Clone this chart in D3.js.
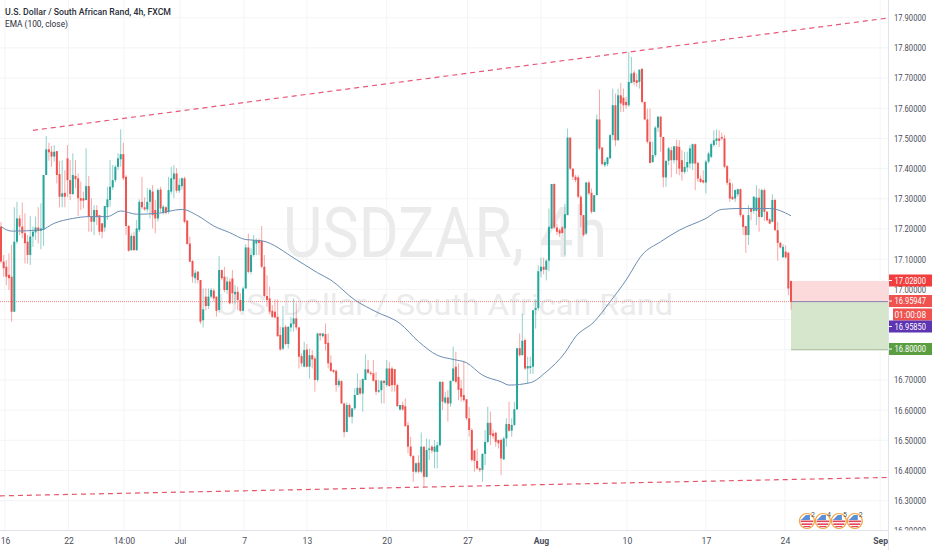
<!DOCTYPE html>
<html>
<head>
<meta charset="utf-8">
<script src="https://cdn.jsdelivr.net/npm/d3@7"></script>
<style>
  body { margin: 0; background: #fff; }
  text { font-family: Roboto, sans-serif; }
  .domain { display: none; }
  .price text { font-size: 9px; fill: #4a4e5a; }
  .time text { font-size: 8.6px; fill: #4a4e5a; }
</style>
</head>
<body>
<svg id="chart"></svg>
<script>
var opens = [
  17.208,17.092,17.075,17.048,17.042,16.926,17.158,17.235,17.208,17.186,17.158,17.114,17.175,17.189,17.205,17.194,17.197,17.379,17.464,17.456,17.440,17.458,17.382,17.307,17.320,17.434,17.362,17.316,17.376,17.368,17.302,17.302,17.296,17.342,17.241,17.224,17.263,17.246,17.219,17.205,17.272,17.296,17.338,17.362,17.406,17.431,17.448,17.373,17.210,17.130,17.177,17.130,17.197,17.290,17.272,17.265,17.290,17.324,17.263,17.235,17.331,17.255,17.272,17.257,17.324,17.365,17.384,17.327,17.342,17.368,17.228,17.152,17.094,17.037,17.059,17.031,16.898,16.976,16.945,16.976,16.996,16.976,16.932,17.064,17.042,16.998,17.026,
  17.036,16.984,16.992,16.965,16.929,17.003,17.139,17.058,17.114,17.152,17.163,17.161,17.075,16.978,16.970,16.929,16.926,16.909,16.849,16.804,16.876,16.819,16.874,16.885,16.904,16.874,16.779,16.744,16.801,16.744,16.782,16.771,16.700,16.854,16.845,16.852,16.823,16.757,16.733,16.730,16.683,16.696,16.622,16.528,16.617,16.578,16.606,16.650,16.674,16.655,16.700,16.735,16.724,16.722,16.699,16.661,16.666,16.697,16.683,16.738,16.738,16.736,16.683,16.602,16.617,16.613,16.550,16.479,16.448,16.396,16.426,16.396,16.479,16.379,16.468,16.479,16.462,16.462,16.484,16.694,16.625,16.642,16.622,16.697,16.744,16.710,
  16.672,16.650,16.636,16.573,16.534,16.466,16.432,16.407,16.402,16.455,16.495,16.558,16.523,16.525,16.501,16.501,16.437,16.506,16.554,16.532,16.551,16.603,16.805,16.782,16.832,16.738,16.740,16.744,16.932,16.938,17.060,17.075,17.065,
  17.095,17.202,17.349,17.205,17.196,17.205,17.202,17.246,17.503,17.400,17.373,17.371,17.307,17.246,17.185,17.354,17.320,17.257,17.312,17.563,17.470,17.411,17.415,17.434,17.511,17.610,17.494,17.643,17.635,17.621,17.610,17.684,17.718,17.693,17.687,17.731,17.621,17.563,17.489,17.422,17.445,17.536,17.572,17.505,17.371,17.426,17.461,17.428,17.474,17.472,17.428,17.389,17.404,
  17.417,17.417,17.481,17.419,17.367,17.362,17.354,17.423,17.439,17.478,17.492,17.500,17.505,17.500,17.408,17.353,17.307,17.301,17.315,17.332,17.246,17.210,17.180,17.268,17.260,17.260,17.304,17.240,17.329,17.257,17.232,17.224,17.296,17.196,17.154,17.106,17.125,17.121,17.028
];
var highs = [
  17.224,17.114,17.097,17.119,17.147,17.272,17.290,17.246,17.288,17.252,17.180,17.243,17.208,17.241,17.272,17.285,17.379,17.508,17.486,17.475,17.478,17.459,17.426,17.428,17.395,17.478,17.428,17.451,17.428,17.384,17.357,17.324,17.467,17.376,17.302,17.279,17.279,17.246,17.219,17.276,17.340,17.428,17.412,17.412,17.451,17.530,17.486,17.379,17.213,17.185,17.191,17.230,17.298,17.373,17.305,17.335,17.335,17.346,17.296,17.335,17.340,17.280,17.276,17.373,17.406,17.412,17.401,17.368,17.371,17.373,17.230,17.175,17.097,17.065,17.059,17.031,17.003,17.003,17.003,17.005,17.003,16.976,17.111,17.066,17.075,17.042,17.036,
  17.064,17.014,17.009,16.987,17.009,17.150,17.185,17.136,17.180,17.169,17.169,17.210,17.114,17.047,17.009,16.948,16.967,16.967,16.876,16.945,16.882,16.878,16.909,16.970,16.956,16.876,16.788,16.826,16.819,16.804,16.799,16.779,16.856,16.856,16.856,16.887,16.854,16.782,16.735,16.735,16.705,16.699,16.625,16.625,16.622,16.605,16.672,16.722,16.700,16.705,16.785,16.766,16.730,16.766,16.727,16.700,16.700,16.700,16.766,16.760,16.744,16.736,16.688,16.617,16.628,16.639,16.561,16.512,16.451,16.426,16.451,16.526,16.479,16.506,16.503,16.484,16.501,16.495,16.694,16.694,16.660,16.667,16.697,16.810,16.793,16.755,
  16.700,16.764,16.636,16.611,16.540,16.468,16.473,16.410,16.457,16.534,16.611,16.595,16.535,16.529,16.503,16.506,16.512,16.573,16.628,16.573,16.628,16.805,16.854,16.920,16.838,16.777,16.777,16.931,16.965,17.080,17.105,17.105,17.100,
  17.268,17.349,17.351,17.218,17.202,17.210,17.284,17.533,17.503,17.400,17.380,17.378,17.312,17.246,17.356,17.360,17.334,17.313,17.580,17.662,17.470,17.430,17.439,17.514,17.665,17.649,17.665,17.684,17.665,17.638,17.787,17.770,17.726,17.715,17.728,17.731,17.621,17.599,17.599,17.489,17.541,17.574,17.574,17.505,17.426,17.472,17.472,17.474,17.496,17.494,17.461,17.456,17.456,
  17.478,17.483,17.483,17.423,17.378,17.395,17.428,17.456,17.486,17.527,17.530,17.527,17.519,17.511,17.412,17.367,17.351,17.331,17.334,17.334,17.249,17.210,17.279,17.271,17.309,17.345,17.334,17.334,17.334,17.260,17.235,17.315,17.301,17.224,17.158,17.150,17.146,17.125,17.028
];
var lows = [
  17.086,17.042,17.014,16.998,16.893,16.926,17.150,17.180,17.169,17.086,17.086,17.081,17.141,17.164,17.152,17.133,17.144,17.379,17.426,17.406,17.423,17.351,17.272,17.272,17.272,17.305,17.296,17.312,17.335,17.243,17.263,17.268,17.296,17.191,17.191,17.180,17.213,17.180,17.169,17.191,17.230,17.274,17.330,17.355,17.395,17.406,17.362,17.180,17.125,17.128,17.128,17.128,17.190,17.265,17.260,17.255,17.235,17.202,17.186,17.225,17.255,17.248,17.248,17.250,17.315,17.302,17.320,17.320,17.330,17.219,17.150,17.090,17.022,17.020,17.020,16.885,16.874,16.930,16.935,16.970,16.960,16.910,16.923,17.030,16.990,16.985,16.950,
  16.953,16.953,16.931,16.926,16.926,17.003,17.053,17.050,17.108,17.114,17.114,17.070,16.973,16.942,16.920,16.904,16.904,16.843,16.797,16.799,16.815,16.804,16.860,16.860,16.865,16.738,16.744,16.742,16.742,16.705,16.738,16.661,16.694,16.830,16.840,16.797,16.738,16.727,16.722,16.661,16.675,16.622,16.510,16.527,16.575,16.556,16.600,16.650,16.650,16.595,16.700,16.720,16.715,16.694,16.650,16.657,16.622,16.622,16.677,16.677,16.661,16.661,16.611,16.598,16.598,16.545,16.457,16.443,16.363,16.390,16.390,16.390,16.346,16.377,16.435,16.457,16.407,16.407,16.479,16.600,16.620,16.562,16.611,16.694,16.689,16.633,
  16.628,16.628,16.567,16.512,16.429,16.396,16.402,16.395,16.363,16.418,16.490,16.484,16.505,16.479,16.473,16.385,16.435,16.479,16.528,16.512,16.547,16.600,16.777,16.782,16.733,16.689,16.720,16.720,16.870,16.930,17.040,17.050,17.030,
  17.060,17.200,17.200,17.180,17.174,17.185,17.113,17.246,17.395,17.362,17.355,17.301,17.207,17.174,17.180,17.312,17.251,17.257,17.312,17.461,17.411,17.405,17.408,17.434,17.494,17.474,17.494,17.588,17.588,17.599,17.605,17.682,17.676,17.671,17.665,17.616,17.560,17.483,17.417,17.419,17.439,17.522,17.456,17.338,17.340,17.411,17.371,17.417,17.382,17.378,17.360,17.382,17.389,
  17.401,17.395,17.329,17.356,17.353,17.351,17.318,17.417,17.434,17.472,17.478,17.472,17.494,17.401,17.345,17.290,17.296,17.290,17.307,17.240,17.180,17.121,17.147,17.229,17.251,17.213,17.191,17.238,17.227,17.224,17.216,17.222,17.194,17.095,17.135,17.106,17.102,16.981,16.933
];
var closes = [
  17.092,17.070,17.042,17.037,16.926,17.158,17.235,17.208,17.186,17.153,17.114,17.175,17.191,17.205,17.194,17.202,17.379,17.464,17.454,17.440,17.456,17.379,17.307,17.318,17.307,17.362,17.316,17.379,17.365,17.302,17.294,17.294,17.342,17.241,17.224,17.263,17.241,17.191,17.191,17.276,17.298,17.340,17.362,17.406,17.434,17.448,17.368,17.210,17.128,17.177,17.130,17.202,17.290,17.272,17.265,17.290,17.329,17.246,17.235,17.329,17.268,17.274,17.254,17.329,17.368,17.384,17.327,17.346,17.368,17.224,17.150,17.092,17.042,17.055,17.031,16.893,16.934,16.945,16.976,16.998,16.970,16.929,17.064,17.037,16.998,17.026,16.954,
  16.987,16.992,16.965,16.929,17.003,17.139,17.058,17.114,17.163,17.163,17.154,17.075,16.978,16.965,16.926,16.909,16.907,16.845,16.801,16.874,16.819,16.876,16.887,16.904,16.874,16.777,16.755,16.799,16.744,16.782,16.768,16.700,16.854,16.847,16.854,16.819,16.755,16.730,16.727,16.683,16.697,16.622,16.527,16.617,16.578,16.606,16.650,16.674,16.655,16.703,16.735,16.724,16.720,16.697,16.661,16.666,16.697,16.690,16.738,16.680,16.683,16.683,16.613,16.617,16.602,16.547,16.479,16.448,16.396,16.424,16.396,16.479,16.379,16.468,16.473,16.466,16.479,16.484,16.694,16.628,16.642,16.622,16.697,16.738,16.694,16.667,
  16.644,16.633,16.573,16.534,16.435,16.432,16.407,16.402,16.455,16.495,16.558,16.517,16.514,16.495,16.490,16.440,16.506,16.554,16.532,16.551,16.603,16.805,16.782,16.830,16.738,16.746,16.746,16.931,16.938,17.060,17.075,17.065,17.095,
  17.207,17.349,17.205,17.191,17.185,17.187,17.249,17.503,17.400,17.373,17.362,17.307,17.246,17.180,17.354,17.318,17.257,17.312,17.563,17.467,17.415,17.422,17.437,17.511,17.610,17.494,17.643,17.616,17.610,17.610,17.687,17.715,17.687,17.684,17.728,17.621,17.563,17.489,17.419,17.445,17.536,17.572,17.505,17.371,17.426,17.467,17.428,17.474,17.428,17.400,17.389,17.406,17.422,
  17.467,17.481,17.417,17.367,17.356,17.354,17.423,17.450,17.481,17.494,17.500,17.492,17.500,17.406,17.353,17.301,17.299,17.329,17.332,17.246,17.207,17.180,17.246,17.257,17.307,17.304,17.240,17.329,17.257,17.229,17.218,17.296,17.196,17.154,17.139,17.141,17.106,17.003,16.959
];

// ema at a few candles
var emaIndex = [0,4,15,20,27,33,40,45,51,59,68,74,80,86,92,98,111,119,124,133,141,150,157,164,170,175,181,188,191,199,205,212,216,223,229,235,241,248,255,265,271,278,289,297];
var emaValue = [17.208,17.193,17.197,17.219,17.235,17.241,17.241,17.260,17.249,17.252,17.265,17.244,17.210,17.188,17.165,17.161,17.099,17.055,17.031,16.965,16.926,16.887,16.827,16.782,16.768,16.757,16.716,16.694,16.683,16.691,16.727,16.790,16.843,16.893,16.959,17.031,17.114,17.158,17.196,17.235,17.265,17.268,17.268,17.244];

var upperIndex = [12, 333.5];
var upperPrice = [17.527, 17.899];
var lowerIndex = [-0.4, 333.5];
var lowerPrice = [16.316, 16.377];

var gridPrices = [16.2,16.3,16.4,16.5,16.6,16.7,16.8,16.9,17.0,17.1,17.2,17.3,17.4,17.5,17.6,17.7,17.8,17.9];
// 16.9 sits behind the price badges, no label for it
var priceTicks = [16.2,16.3,16.4,16.5,16.6,16.7,16.8,17.0,17.1,17.2,17.3,17.4,17.5,17.6,17.7,17.8,17.9];
var timeLabels = ["16","22","14:00","Jul","7","13","20","27","Aug","10","17","24","Sep"];
var timeIndex = [1.5,25.4,46.2,67.3,91.4,115,145,175.4,203,235.3,265,294.7,330.5];
var flagIndex = [303, 309, 315, 321];
var flagCount = ["2", "4", "5", "2"];

var lastPrice = 16.95947;
var stopPrice = 17.028;
var targetPrice = 16.8;

var badgeLabels = ["17.02800", "16.95947", "01:00:08", "16.95850", "16.80000"];
var badgeColors = ["#f23d3d", "#ef5350", "#ef5350", "#5e35b1", "#5b9e42"];

var screen = { width: 932, height: 550 };
var plot = { right: 888, bottom: 530.5 };
var upColor = "#26a69a";
var downColor = "#ef5350";

var svg = d3.select("#chart").attr("width", screen.width).attr("height", screen.height)
  .style("display", "block");

var xScale = d3.scaleLinear().domain([0, closes.length - 1]).range([1, 791]);
var yScale = d3.scaleLinear().domain([17.9, 16.3]).range([17.7, 500.7]);

svg.append("clipPath").attr("id", "pane").append("rect")
  .attr("width", plot.right).attr("height", plot.bottom);
svg.append("clipPath").attr("id", "scale").append("rect")
  .attr("x", plot.right).attr("width", screen.width - plot.right).attr("height", plot.bottom);

var pane = svg.append("g").attr("clip-path", "url(#pane)");

// grid
pane.append("g").selectAll("line").data(gridPrices).enter().append("line")
  .attr("x1", 0).attr("x2", plot.right)
  .attr("y1", function (p) { return yScale(p); })
  .attr("y2", function (p) { return yScale(p); })
  .attr("stroke", "#f3f4f6");
pane.append("g").selectAll("line").data(timeIndex).enter().append("line")
  .attr("x1", function (t) { return xScale(t); })
  .attr("x2", function (t) { return xScale(t); })
  .attr("y1", 0).attr("y2", plot.bottom)
  .attr("stroke", "#f3f4f6");

// watermark
pane.append("text").text("USDZAR, 4h")
  .attr("x", 445).attr("y", 257)
  .attr("text-anchor", "middle")
  .attr("textLength", 324).attr("lengthAdjust", "spacingAndGlyphs")
  .style("font-size", "70px").style("fill", "#ebebec");
pane.append("text").text("U.S. Dollar / South African Rand")
  .attr("x", 445).attr("y", 315)
  .attr("text-anchor", "middle")
  .attr("textLength", 456).attr("lengthAdjust", "spacingAndGlyphs")
  .style("font-size", "30px").style("fill", "#ebebec");

// position box
pane.append("rect")
  .attr("x", xScale(closes.length - 1)).attr("width", plot.right - xScale(closes.length - 1))
  .attr("y", yScale(stopPrice)).attr("height", yScale(lastPrice) - yScale(stopPrice))
  .attr("fill", "#fcd9da");
pane.append("rect")
  .attr("x", xScale(closes.length - 1)).attr("width", plot.right - xScale(closes.length - 1))
  .attr("y", yScale(lastPrice)).attr("height", yScale(targetPrice) - yScale(lastPrice))
  .attr("fill", "#d5e6cd");
pane.append("line")
  .attr("x1", xScale(closes.length - 1)).attr("x2", plot.right)
  .attr("y1", yScale(targetPrice)).attr("y2", yScale(targetPrice))
  .attr("stroke", "#a3bd96");
pane.append("line")
  .attr("x1", xScale(closes.length - 1)).attr("x2", plot.right)
  .attr("y1", yScale(lastPrice)).attr("y2", yScale(lastPrice))
  .attr("stroke", "#8f7fa8");

// last price line
pane.append("line")
  .attr("x1", 0).attr("x2", xScale(closes.length - 1))
  .attr("y1", yScale(lastPrice)).attr("y2", yScale(lastPrice))
  .attr("stroke", "#ef5350").attr("stroke-opacity", 0.7)
  .attr("stroke-dasharray", "1,1");

// candles
var candles = pane.append("g").selectAll("g").data(closes).enter().append("g");
candles.append("line")
  .attr("x1", function (c, i) { return xScale(i); })
  .attr("x2", function (c, i) { return xScale(i); })
  .attr("y1", function (c, i) { return yScale(highs[i]); })
  .attr("y2", function (c, i) { return yScale(lows[i]); })
  .attr("stroke", function (c, i) { return c >= opens[i] ? upColor : downColor; })
  .attr("stroke-opacity", 0.5)
  .attr("stroke-width", 1);
candles.append("rect")
  .attr("x", function (c, i) { return xScale(i) - 1; })
  .attr("width", 2)
  .attr("y", function (c, i) { return yScale(Math.max(c, opens[i])); })
  .attr("height", function (c, i) { return Math.max(1, Math.abs(yScale(c) - yScale(opens[i]))); })
  .attr("fill", function (c, i) { return c >= opens[i] ? upColor : downColor; });

// ema
var emaLine = d3.line()
  .x(function (t) { return xScale(t); })
  .y(function (t, i) { return yScale(emaValue[i]); })
  .curve(d3.curveMonotoneX);
pane.append("path").attr("d", emaLine(emaIndex))
  .attr("fill", "none").attr("stroke", "#6a8db3").attr("stroke-width", 1);

// trend lines
var drawTrend = function (index, price, color) {
  pane.append("line")
    .attr("x1", xScale(index[0])).attr("y1", yScale(price[0]))
    .attr("x2", xScale(index[1])).attr("y2", yScale(price[1]))
    .attr("stroke", color).attr("stroke-width", 1.2)
    .attr("stroke-dasharray", "5,4");
};
drawTrend(upperIndex, upperPrice, "#e8587a");
drawTrend(lowerIndex, lowerPrice, "#e4566a");

// earnings flags
var flags = pane.append("g").selectAll("g").data(flagIndex).enter().append("g")
  .attr("transform", function (t) { return "translate(" + xScale(t) + ",521)"; });
flags.append("circle").attr("r", 7.5).attr("fill", "#fff")
  .attr("stroke", "#f5a33f").attr("stroke-width", 1.2);
flags.append("rect").attr("x", -6.3).attr("y", -0.5).attr("width", 12.6).attr("height", 1.6).attr("fill", "#e0455a");
flags.append("rect").attr("x", -5.5).attr("y", 2.4).attr("width", 11).attr("height", 1.6).attr("fill", "#e0455a");
flags.append("rect").attr("x", -3.5).attr("y", 5).attr("width", 7).attr("height", 1.2).attr("fill", "#e0455a");
flags.append("path").attr("d", "M-6,-1 L-1,-6 L3,-6 L3,-1 Z").attr("fill", "#5b8fd6");
flags.append("text").text(function (t, i) { return flagCount[i]; })
  .attr("x", 6).attr("y", -4.5)
  .attr("text-anchor", "middle")
  .style("font-size", "7px").style("fill", "#555");

// axes
var priceAxis = d3.axisRight(yScale)
  .tickValues(priceTicks)
  .tickFormat(d3.format(".5f"))
  .tickSize(0)
  .tickPadding(6);
svg.append("g").attr("clip-path", "url(#scale)")
  .append("g").classed("price", true)
  .attr("transform", "translate(" + plot.right + ",0)")
  .call(priceAxis)
  .selectAll("text")
  .attr("textLength", 32).attr("lengthAdjust", "spacingAndGlyphs");

var timeAxis = d3.axisBottom(xScale)
  .tickValues(timeIndex)
  .tickFormat(function (t, i) { return timeLabels[i]; })
  .tickSize(0)
  .tickPadding(7);
svg.append("g").classed("time", true)
  .attr("transform", "translate(0," + plot.bottom + ")")
  .call(timeAxis)
  .selectAll("text")
  .style("font-weight", function (t, i) {
    return timeLabels[i] == "Aug" || timeLabels[i] == "Sep" ? "bold" : "normal";
  });

svg.append("line").attr("x1", 0).attr("x2", plot.right).attr("y1", plot.bottom).attr("y2", plot.bottom)
  .attr("stroke", "#e0e3eb");
svg.append("line").attr("x1", plot.right + 0.5).attr("x2", plot.right + 0.5).attr("y1", 0).attr("y2", screen.height)
  .attr("stroke", "#e0e3eb");

// price badges
var badgeCenters = [280.5, 301, 314.5, 326.5, 349];
var badges = svg.append("g").selectAll("g").data(badgeLabels).enter().append("g")
  .attr("transform", function (b, i) { return "translate(" + plot.right + "," + badgeCenters[i] + ")"; });
badges.append("rect")
  .attr("x", function (b, i) { return i == 2 ? 5 : 1; })
  .attr("y", -6).attr("height", 12)
  .attr("width", function (b, i) { return i == 2 ? 39 : 43; })
  .attr("fill", function (b, i) { return badgeColors[i]; });
badges.filter(function (b, i) { return i != 2; }).append("line")
  .attr("x1", 1).attr("x2", 4).attr("stroke", "#fff");
badges.append("text").text(function (b) { return b; })
  .attr("x", 6.5).attr("y", 3.2)
  .attr("textLength", 31.5).attr("lengthAdjust", "spacingAndGlyphs")
  .style("font-size", "9px").style("fill", "#fff");

// legend
svg.append("text").text("U.S. Dollar / South African Rand, 4h, FXCM")
  .attr("x", 5).attr("y", 14.5)
  .attr("textLength", 166).attr("lengthAdjust", "spacingAndGlyphs")
  .style("font-size", "9.4px").style("font-weight", "500").style("fill", "#2a2e39");
svg.append("text").text("EMA (100, close)")
  .attr("x", 5).attr("y", 26.5)
  .attr("textLength", 63).attr("lengthAdjust", "spacingAndGlyphs")
  .style("font-size", "9.4px").style("fill", "#2a2e39");
</script>
</body>
</html>
